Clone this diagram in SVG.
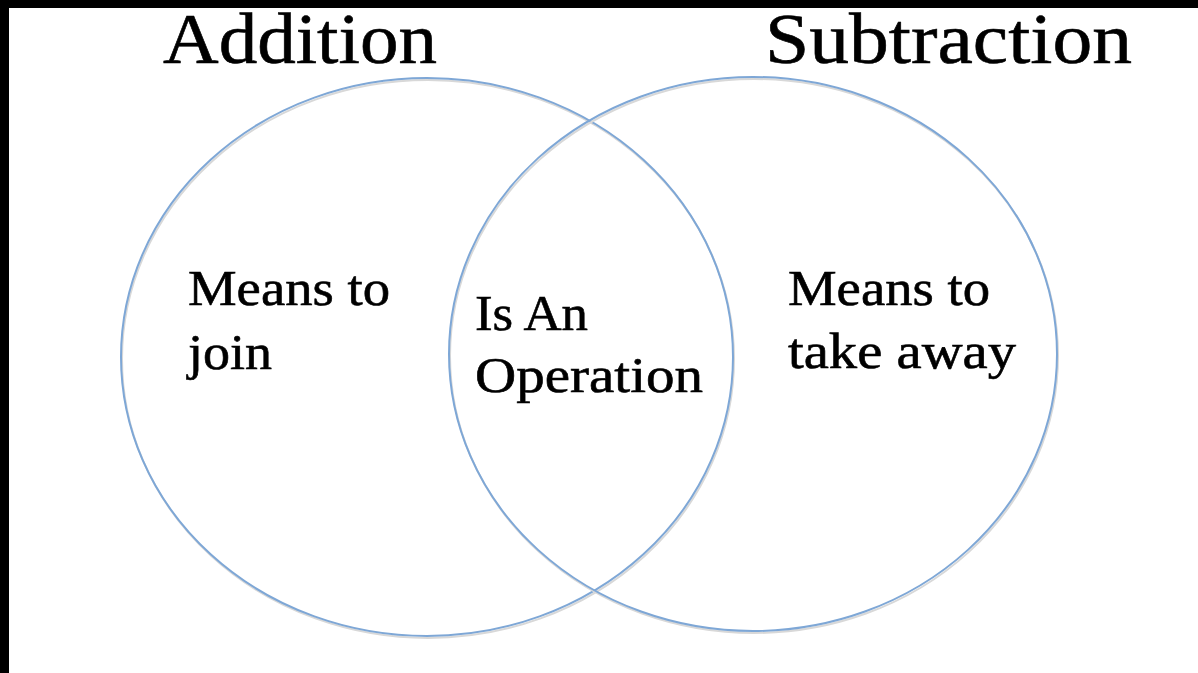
<svg xmlns="http://www.w3.org/2000/svg" width="1198" height="673" viewBox="0 0 1198 673">
<style>
.ring{fill:none;stroke:#7ea7d6;stroke-width:2}
.shadow{fill:none;stroke:#d8d8d8;stroke-width:2}
.title{font-family:"Liberation Serif","DejaVu Serif",serif;font-size:72px;fill:#000;stroke:#000;stroke-width:0.6}
.body{font-family:"Liberation Serif","DejaVu Serif",serif;font-size:50px;fill:#000;stroke:#000;stroke-width:0.6}
</style>
<rect x="0" y="0" width="1198" height="673" fill="#ffffff"/>
<rect x="0" y="0" width="1198" height="8" fill="#000"/>
<rect x="0" y="0" width="9" height="673" fill="#000"/>
<g id="addition">
<ellipse class="shadow" cx="428" cy="359" rx="306" ry="279"/>
<ellipse class="ring" cx="427" cy="357" rx="306" ry="279"/>
<text class="title" x="163" y="63" textLength="274" lengthAdjust="spacingAndGlyphs">Addition</text>
<text class="body" x="188" y="305" textLength="202" lengthAdjust="spacingAndGlyphs">Means to</text>
<text class="body" x="188" y="369" textLength="84" lengthAdjust="spacingAndGlyphs">join</text>
</g>
<g id="subtraction">
<ellipse class="shadow" cx="754" cy="356" rx="304" ry="277"/>
<ellipse class="ring" cx="753" cy="354" rx="304" ry="277"/>
<text class="title" x="765" y="63" textLength="367" lengthAdjust="spacingAndGlyphs">Subtraction</text>
<text class="body" x="788" y="305" textLength="202" lengthAdjust="spacingAndGlyphs">Means to</text>
<text class="body" x="788" y="368" textLength="228" lengthAdjust="spacingAndGlyphs">take away</text>
</g>
<g id="intersection">
<text class="body" x="475" y="330" textLength="113" lengthAdjust="spacingAndGlyphs">Is An</text>
<text class="body" x="475" y="392" textLength="228" lengthAdjust="spacingAndGlyphs">Operation</text>
</g>
<g id="connectors"/>
</svg>
